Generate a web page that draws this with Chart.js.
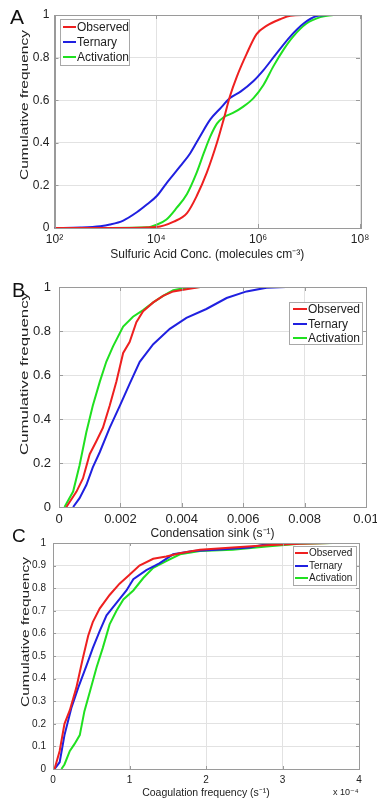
<!DOCTYPE html>
<html><head><meta charset="utf-8">
<script src="https://cdn.jsdelivr.net/npm/chart.js@4.4.1/dist/chart.umd.min.js"></script>
<style>
html,body{margin:0;padding:0;width:377px;height:801px;overflow:hidden;background:#fff;}
body{position:relative;font-family:"Liberation Sans",Arial,sans-serif;}
.pane{position:absolute;left:0;width:400px;}
.letter{position:absolute;color:#111;line-height:1;font-family:"Liberation Sans",Arial,sans-serif;}
</style></head><body>
<div class="pane" style="top:0;height:265px"><canvas id="cA"></canvas></div>
<div class="pane" style="top:265px;height:278px"><canvas id="cB"></canvas></div>
<div class="pane" style="top:530px;height:271px"><canvas id="cC"></canvas></div>
<div class="letter" style="left:10px;top:6px;font-size:21px">A</div>
<div class="letter" style="left:12px;top:280px;font-size:20px">B</div>
<div class="letter" style="left:12px;top:526px;font-size:19px">C</div>
<script>
// ---------- Panel A: sulfuric acid concentration (molecules cm^-3) ----------
const seriesNames = ['Observed', 'Ternary', 'Activation'];
const yTitleText = 'Cumulative frequency';
const aTickValues = [1e2, 1e4, 1e6, 1e8];
const aTickLabels = ['10\u00B2', '10\u2074', '10\u2076', '10\u2078'];
const yTicks5 = [0, 0.2, 0.4, 0.6, 0.8, 1];
const aObserved = [[1e2,0],[1e3,0],[1e4,0.005],[2.2e4,0.03],[4.0e4,0.07],[6.2e4,0.15],[9.8e4,0.26],[1.55e5,0.40],[2.1e5,0.51],[2.8e5,0.62],[3.8e5,0.71],[6.0e5,0.82],[9.3e5,0.91],[1.48e6,0.95],[2.7e6,0.98],[4.3e6,0.997],[8.9e6,1.0]];
const aTernary = [[1e2,0],[3.2e2,0.002],[7.9e2,0.008],[1.23e3,0.016],[2.24e3,0.035],[4.2e3,0.075],[6.5e3,0.11],[1.02e4,0.15],[1.58e4,0.21],[2.95e4,0.29],[4.6e4,0.35],[7.2e4,0.43],[1.15e5,0.51],[1.78e5,0.56],[2.8e5,0.61],[4.5e5,0.64],[8.1e5,0.69],[1.26e6,0.74],[2.3e6,0.82],[4.3e6,0.90],[7.8e6,0.96],[1.41e7,0.995],[2.2e7,1.0]];
const aActivation = [[1e3,0],[6.5e3,0.003],[1.02e4,0.016],[1.58e4,0.04],[2.5e4,0.094],[4.0e4,0.16],[6.2e4,0.26],[8.5e4,0.35],[1.15e5,0.43],[1.55e5,0.49],[2.1e5,0.52],[3.2e5,0.54],[5.1e5,0.57],[8.1e5,0.61],[1.26e6,0.67],[2.0e6,0.76],[3.2e6,0.84],[4.9e6,0.90],[8.9e6,0.96],[1.66e7,0.99],[3.0e7,1.0]];

// ---------- Panel B: condensation sink (s^-1) ----------
const bTickValues = [0, 0.002, 0.004, 0.006, 0.008, 0.01];
const bTickLabels = ['0', '0.002', '0.004', '0.006', '0.008', '0.01'];
const bObserved = [[0.00024,0],[0.00057,0.07],[0.00078,0.13],[0.0010,0.24],[0.00122,0.30],[0.00143,0.36],[0.00165,0.46],[0.00187,0.57],[0.00209,0.70],[0.0023,0.75],[0.00252,0.84],[0.00274,0.89],[0.00307,0.93],[0.00339,0.96],[0.00372,0.98],[0.00415,0.99],[0.0046,1.0],[0.0068,1.0]];
const bTernary = [[0.00046,0],[0.00067,0.04],[0.00089,0.10],[0.0011,0.18],[0.00133,0.25],[0.00165,0.36],[0.00198,0.46],[0.0023,0.56],[0.00263,0.66],[0.00307,0.74],[0.00361,0.81],[0.00415,0.86],[0.0048,0.90],[0.00546,0.95],[0.00611,0.98],[0.00676,0.997],[0.0074,1.0],[0.0086,1.0]];
const bActivation = [[0.00018,0],[0.00046,0.07],[0.00067,0.19],[0.00089,0.34],[0.0011,0.46],[0.00133,0.57],[0.00154,0.66],[0.00176,0.73],[0.00209,0.82],[0.00241,0.865],[0.00274,0.895],[0.00307,0.93],[0.00339,0.96],[0.00372,0.985],[0.00415,0.997],[0.0046,1.0],[0.005,1.0]];

// ---------- Panel C: coagulation frequency (x 10^-4 s^-1) ----------
const cTickValues = [0, 1, 2, 3, 4];
const cTickLabels = ['0', '1', '2', '3', '4'];
const yTicks10 = [0, 0.1, 0.2, 0.3, 0.4, 0.5, 0.6, 0.7, 0.8, 0.9, 1];
const cObserved = [[0.02,0],[0.087,0.08],[0.15,0.2],[0.22,0.26],[0.305,0.36],[0.39,0.49],[0.46,0.59],[0.52,0.65],[0.61,0.71],[0.74,0.77],[0.87,0.82],[1.0,0.86],[1.13,0.90],[1.31,0.93],[1.48,0.94],[1.66,0.955],[1.92,0.97],[2.35,0.98],[2.79,0.99],[3.22,0.997],[3.62,1.0]];
const cTernary = [[0.02,0],[0.087,0.03],[0.15,0.15],[0.24,0.27],[0.33,0.36],[0.44,0.46],[0.52,0.535],[0.61,0.61],[0.70,0.68],[0.83,0.735],[0.96,0.79],[1.05,0.84],[1.22,0.88],[1.39,0.91],[1.57,0.95],[1.83,0.965],[2.14,0.97],[2.57,0.98],[2.79,0.995],[3.22,1.0],[3.57,1.0]];
const cActivation = [[0.11,0],[0.15,0.02],[0.22,0.08],[0.28,0.11],[0.35,0.15],[0.41,0.255],[0.48,0.34],[0.57,0.45],[0.65,0.535],[0.74,0.64],[0.83,0.70],[0.92,0.75],[1.05,0.79],[1.18,0.845],[1.31,0.89],[1.48,0.92],[1.66,0.95],[1.92,0.965],[2.35,0.97],[2.79,0.985],[3.22,0.997],[3.66,1.0]];

const COLORS = ['#ee2020', '#2020e0', '#20e020'];
const GRID = '#e2e2e2';
const FRAME = '#9a9a9a';
const TEXT = '#222';
const FONT = '"Liberation Sans", Arial, sans-serif';
Chart.defaults.font.family = FONT;
Chart.defaults.color = TEXT;

const framePlugin = {
  id: 'frame',
  afterDatasetsDraw(chart, args, opts) {
    const ctx = chart.ctx, a = chart.chartArea;
    const len = opts.tick || 4;
    ctx.save();
    ctx.strokeStyle = FRAME; ctx.lineWidth = 1;
    ctx.beginPath();
    chart.scales.x.ticks.forEach(t => {
      const px = Math.round(chart.scales.x.getPixelForValue(t.value)) + 0.5;
      ctx.moveTo(px, a.bottom); ctx.lineTo(px, a.bottom - len);
      ctx.moveTo(px, a.top); ctx.lineTo(px, a.top + len);
    });
    chart.scales.y.ticks.forEach(t => {
      const py = Math.round(chart.scales.y.getPixelForValue(t.value)) + 0.5;
      ctx.moveTo(a.left, py); ctx.lineTo(a.left + len, py);
      ctx.moveTo(a.right, py); ctx.lineTo(a.right - len, py);
    });
    ctx.stroke();
    ctx.strokeRect(Math.round(a.left) + 0.5, Math.round(a.top) + 0.5, Math.round(a.right - a.left), Math.round(a.bottom - a.top));
    ctx.restore();
  }
};

// y-axis title, drawn rotated and fitted between two pixel rows (the reference text is stretched)
const yTitlePlugin = {
  id: 'yTitle',
  afterDraw(chart, args, o) {
    if (!o || !o.text) return;
    const ctx = chart.ctx;
    ctx.save();
    ctx.font = o.fontSize + 'px ' + FONT;
    ctx.fillStyle = TEXT;
    ctx.textAlign = 'center'; ctx.textBaseline = 'middle';
    const w = ctx.measureText(o.text).width;
    ctx.translate(o.x, (o.yTop + o.yBottom) / 2);
    ctx.rotate(-Math.PI / 2);
    ctx.scale((o.yBottom - o.yTop) / w, 1);
    ctx.fillText(o.text, 0, 0);
    ctx.restore();
  }
};

const boxLegendPlugin = {
  id: 'boxLegend',
  afterDraw(chart, args, o) {
    if (!o || !o.width) return;
    const ctx = chart.ctx;
    ctx.save();
    ctx.fillStyle = '#fff';
    ctx.fillRect(o.left, o.top, o.width, o.height);
    ctx.strokeStyle = '#a8a8a8'; ctx.lineWidth = 1;
    ctx.strokeRect(o.left + 0.5, o.top + 0.5, o.width, o.height);
    ctx.font = o.fontSize + 'px ' + FONT;
    ctx.textBaseline = 'middle'; ctx.textAlign = 'left';
    chart.data.datasets.forEach((ds, i) => {
      const y = o.rows[i];
      ctx.strokeStyle = ds.borderColor; ctx.lineWidth = 2;
      ctx.beginPath(); ctx.moveTo(o.lineX1, y); ctx.lineTo(o.lineX2, y); ctx.stroke();
      ctx.fillStyle = TEXT;
      ctx.fillText(ds.label, o.textX, y + 0.5);
    });
    if (o.note) {
      ctx.font = o.note.fontSize + 'px "Liberation Sans", "DejaVu Sans", Arial, sans-serif';
      ctx.fillText(o.note.text, o.note.x, o.note.y);
    }
    ctx.restore();
  }
};

function makeDatasets(arrs, smooth) {
  return arrs.map((d, i) => ({
    label: seriesNames[i],
    data: d.map(p => ({ x: p[0], y: p[1] })),
    borderColor: COLORS[i],
    backgroundColor: COLORS[i],
    borderWidth: 2,
    pointRadius: 0,
    showLine: true,
    fill: false,
    tension: smooth ? 0.4 : 0,
    cubicInterpolationMode: smooth ? 'monotone' : 'default'
  }));
}

function makeChart(id, cfg) {
  return new Chart(document.getElementById(id), {
    type: 'scatter',
    data: { datasets: makeDatasets(cfg.series, cfg.smooth) },
    plugins: [framePlugin, boxLegendPlugin, yTitlePlugin],
    options: {
      responsive: true,
      maintainAspectRatio: false,
      animation: false,
      layout: { padding: cfg.padding },
      plugins: {
        legend: { display: false },
        tooltip: { enabled: false },
        frame: { tick: cfg.tickLen },
        boxLegend: cfg.legend,
        yTitle: cfg.yTitle
      },
      scales: {
        x: {
          type: cfg.xType,
          min: cfg.xTicks[0],
          max: cfg.xTicks[cfg.xTicks.length - 1],
          afterBuildTicks: s => { s.ticks = cfg.xTicks.map(v => ({ value: v })); },
          afterFit: s => { s.height = cfg.xHeight; },
          grid: { color: GRID, drawTicks: false },
          border: { color: FRAME },
          ticks: {
            autoSkip: false, maxRotation: 0, padding: cfg.xTickPad,
            font: { size: cfg.tickFont },
            callback: (v, i) => cfg.xLabels[i]
          },
          title: {
            display: true, text: cfg.xTitle,
            font: { size: cfg.xTitleFont },
            padding: { top: 0, bottom: cfg.xTitlePad }
          }
        },
        y: {
          type: 'linear', min: 0, max: 1,
          afterBuildTicks: s => { s.ticks = cfg.yTicks.map(v => ({ value: v })); },
          afterFit: s => { s.width = cfg.yWidth; },
          grid: { color: GRID, drawTicks: false },
          border: { color: FRAME },
          ticks: {
            autoSkip: false, padding: cfg.yTickPad,
            font: { size: cfg.tickFont },
            callback: v => String(Math.round(v * 10) / 10)
          },
          title: { display: false, text: yTitleText }
        }
      }
    }
  });
}

makeChart('cA', {
  series: [aObserved, aTernary, aActivation], smooth: true,
  xType: 'logarithmic', xTicks: aTickValues, xLabels: aTickLabels, yTicks: yTicks5,
  padding: { left: 0, top: 15, right: 40, bottom: 0 },
  yWidth: 54.5, xHeight: 37, tickFont: 12, xTickPad: 4, yTickPad: 5,
  xTitle: 'Sulfuric Acid Conc. (molecules cm\u207B\u00B3)', xTitleFont: 12, xTitlePad: 3,
  tickLen: 4,
  yTitle: { text: yTitleText, fontSize: 11.5, x: 25, yTop: 30, yBottom: 180 },
  legend: { left: 60, top: 19, width: 69, height: 46, rows: [27, 42, 57], lineX1: 63, lineX2: 76, textX: 77, fontSize: 12 }
});

makeChart('cB', {
  series: [bObserved, bTernary, bActivation], smooth: false,
  xType: 'linear', xTicks: bTickValues, xLabels: bTickLabels, yTicks: yTicks5,
  padding: { left: 0, top: 22, right: 34, bottom: 0 },
  yWidth: 59, xHeight: 36, tickFont: 13, xTickPad: 5, yTickPad: 8,
  xTitle: 'Condensation sink (s\u207B\u00B9)', xTitleFont: 12, xTitlePad: 2,
  tickLen: 4,
  yTitle: { text: yTitleText, fontSize: 11.5, x: 25, yTop: 27, yBottom: 190 },
  legend: { left: 289, top: 37, width: 73, height: 42, rows: [44, 59, 73], lineX1: 293, lineX2: 307, textX: 308, fontSize: 12 }
});

makeChart('cC', {
  series: [cObserved, cTernary, cActivation], smooth: false,
  xType: 'linear', xTicks: cTickValues, xLabels: cTickLabels, yTicks: yTicks10,
  padding: { left: 0, top: 13, right: 41, bottom: 0 },
  yWidth: 53, xHeight: 32, tickFont: 10, xTickPad: 5, yTickPad: 7,
  xTitle: 'Coagulation frequency (s\u207B\u00B9)', xTitleFont: 10.5, xTitlePad: 2,
  tickLen: 3,
  yTitle: { text: yTitleText, fontSize: 10.5, x: 26, yTop: 27, yBottom: 177 },
  legend: { left: 293, top: 16, width: 63, height: 39, rows: [23, 36, 48], lineX1: 295, lineX2: 308, textX: 309, fontSize: 10,
            note: { text: 'x 10\u207B\u2074', x: 333, y: 263, fontSize: 9 } }
});
</script>
</body></html>
